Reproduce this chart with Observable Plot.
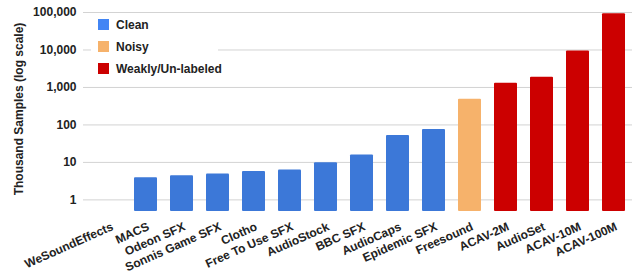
<!DOCTYPE html>
<html>
<head>
<meta charset="utf-8">
<script src="https://cdn.jsdelivr.net/npm/d3@7"></script>
<script src="https://cdn.jsdelivr.net/npm/@observablehq/plot@0.6"></script>
<style>
  html, body { margin: 0; padding: 0; background: #fff; }
  #wrap { position: relative; width: 636px; height: 276px; font-family: "Liberation Sans", Arial, sans-serif; }
  #legend { position: absolute; left: 91px; top: 14px; width: 127px; height: 72px; background: #fff; }
  .item { position: absolute; left: 7px; height: 11px; display: flex; align-items: center; font: bold 12px "Liberation Sans", Arial, sans-serif; color: #222; white-space: nowrap; }
  .sw { width: 11px; height: 11px; margin-right: 7px; flex: none; }
</style>
</head>
<body>
<div id="wrap"><div id="legend"></div></div>
<script>
const categories = ["WeSoundEffects", "MACS", "Odeon SFX", "Sonnis Game SFX", "Clotho", "Free To Use SFX", "AudioStock", "BBC SFX", "AudioCaps", "Epidemic SFX", "Freesound", "ACAV-2M", "AudioSet", "ACAV-10M", "ACAV-100M"];
const values = [null, 3.9, 4.4, 4.9, 5.7, 6.3, 9.8, 15.8, 52, 75, 485, 1290, 1870, 9400, 93000];
const types = ["Clean", "Clean", "Clean", "Clean", "Clean", "Clean", "Clean", "Clean", "Clean", "Clean", "Noisy", "Weakly/Un-labeled", "Weakly/Un-labeled", "Weakly/Un-labeled", "Weakly/Un-labeled"];
const legendLabels = ["Clean", "Noisy", "Weakly/Un-labeled"];
const barColors = ["#3c78d8", "#f6b26b", "#cc0000"];
const legendColors = ["#4285f4", "#f6b26b", "#cc0000"];
const yTicks = [1, 10, 100, 1000, 10000, 100000];
const yLabel = "Thousand Samples (log scale)";
const yMin = 0.49, yMax = 100000;

const data = categories.map((c, i) => ({name: c, value: values[i], type: types[i]}));
const bars = data.filter(d => d.value != null);

const chart = Plot.plot({
  width: 636,
  height: 276,
  marginLeft: 83,
  marginRight: 4,
  marginTop: 12,
  marginBottom: 65,
  style: {fontFamily: '"Liberation Sans", Arial, sans-serif', fontSize: "12px", fontWeight: "bold", color: "#222", background: "#fff"},
  x: {type: "band", domain: categories, range: [89.6, 633.2], paddingInner: 0.36, paddingOuter: 0.2, axis: null},
  y: {type: "log", domain: [yMin, yMax], ticks: yTicks, tickFormat: d3.format(","), tickSize: 0, tickPadding: 7, label: null},
  color: {domain: legendLabels, range: barColors},
  marks: [
    Plot.ruleY(yTicks, {stroke: "#d3d3d3", strokeWidth: 1}),
    Plot.barY(bars, {x: "name", y1: () => yMin, y2: "value", fill: "type", rx: 1}),
    Plot.text(categories, {x: d => d, text: d => d, frameAnchor: "bottom", lineAnchor: "bottom", textAnchor: "end", rotate: -24, dx: 4, dy: 18, fill: "#222"}),
    Plot.text([yLabel], {text: d => d, frameAnchor: "left", textAnchor: "middle", lineAnchor: "middle", rotate: -90, dx: -64, dy: -3, fill: "#222"})
  ]
});
document.getElementById("wrap").prepend(chart);

const legend = document.getElementById("legend");
legendLabels.forEach((l, i) => {
  const it = document.createElement("div");
  it.className = "item";
  it.style.top = (5 + i * 22) + "px";
  const sw = document.createElement("span");
  sw.className = "sw";
  sw.style.background = legendColors[i];
  it.appendChild(sw);
  it.appendChild(document.createTextNode(l));
  legend.appendChild(it);
});
</script>
</body>
</html>
